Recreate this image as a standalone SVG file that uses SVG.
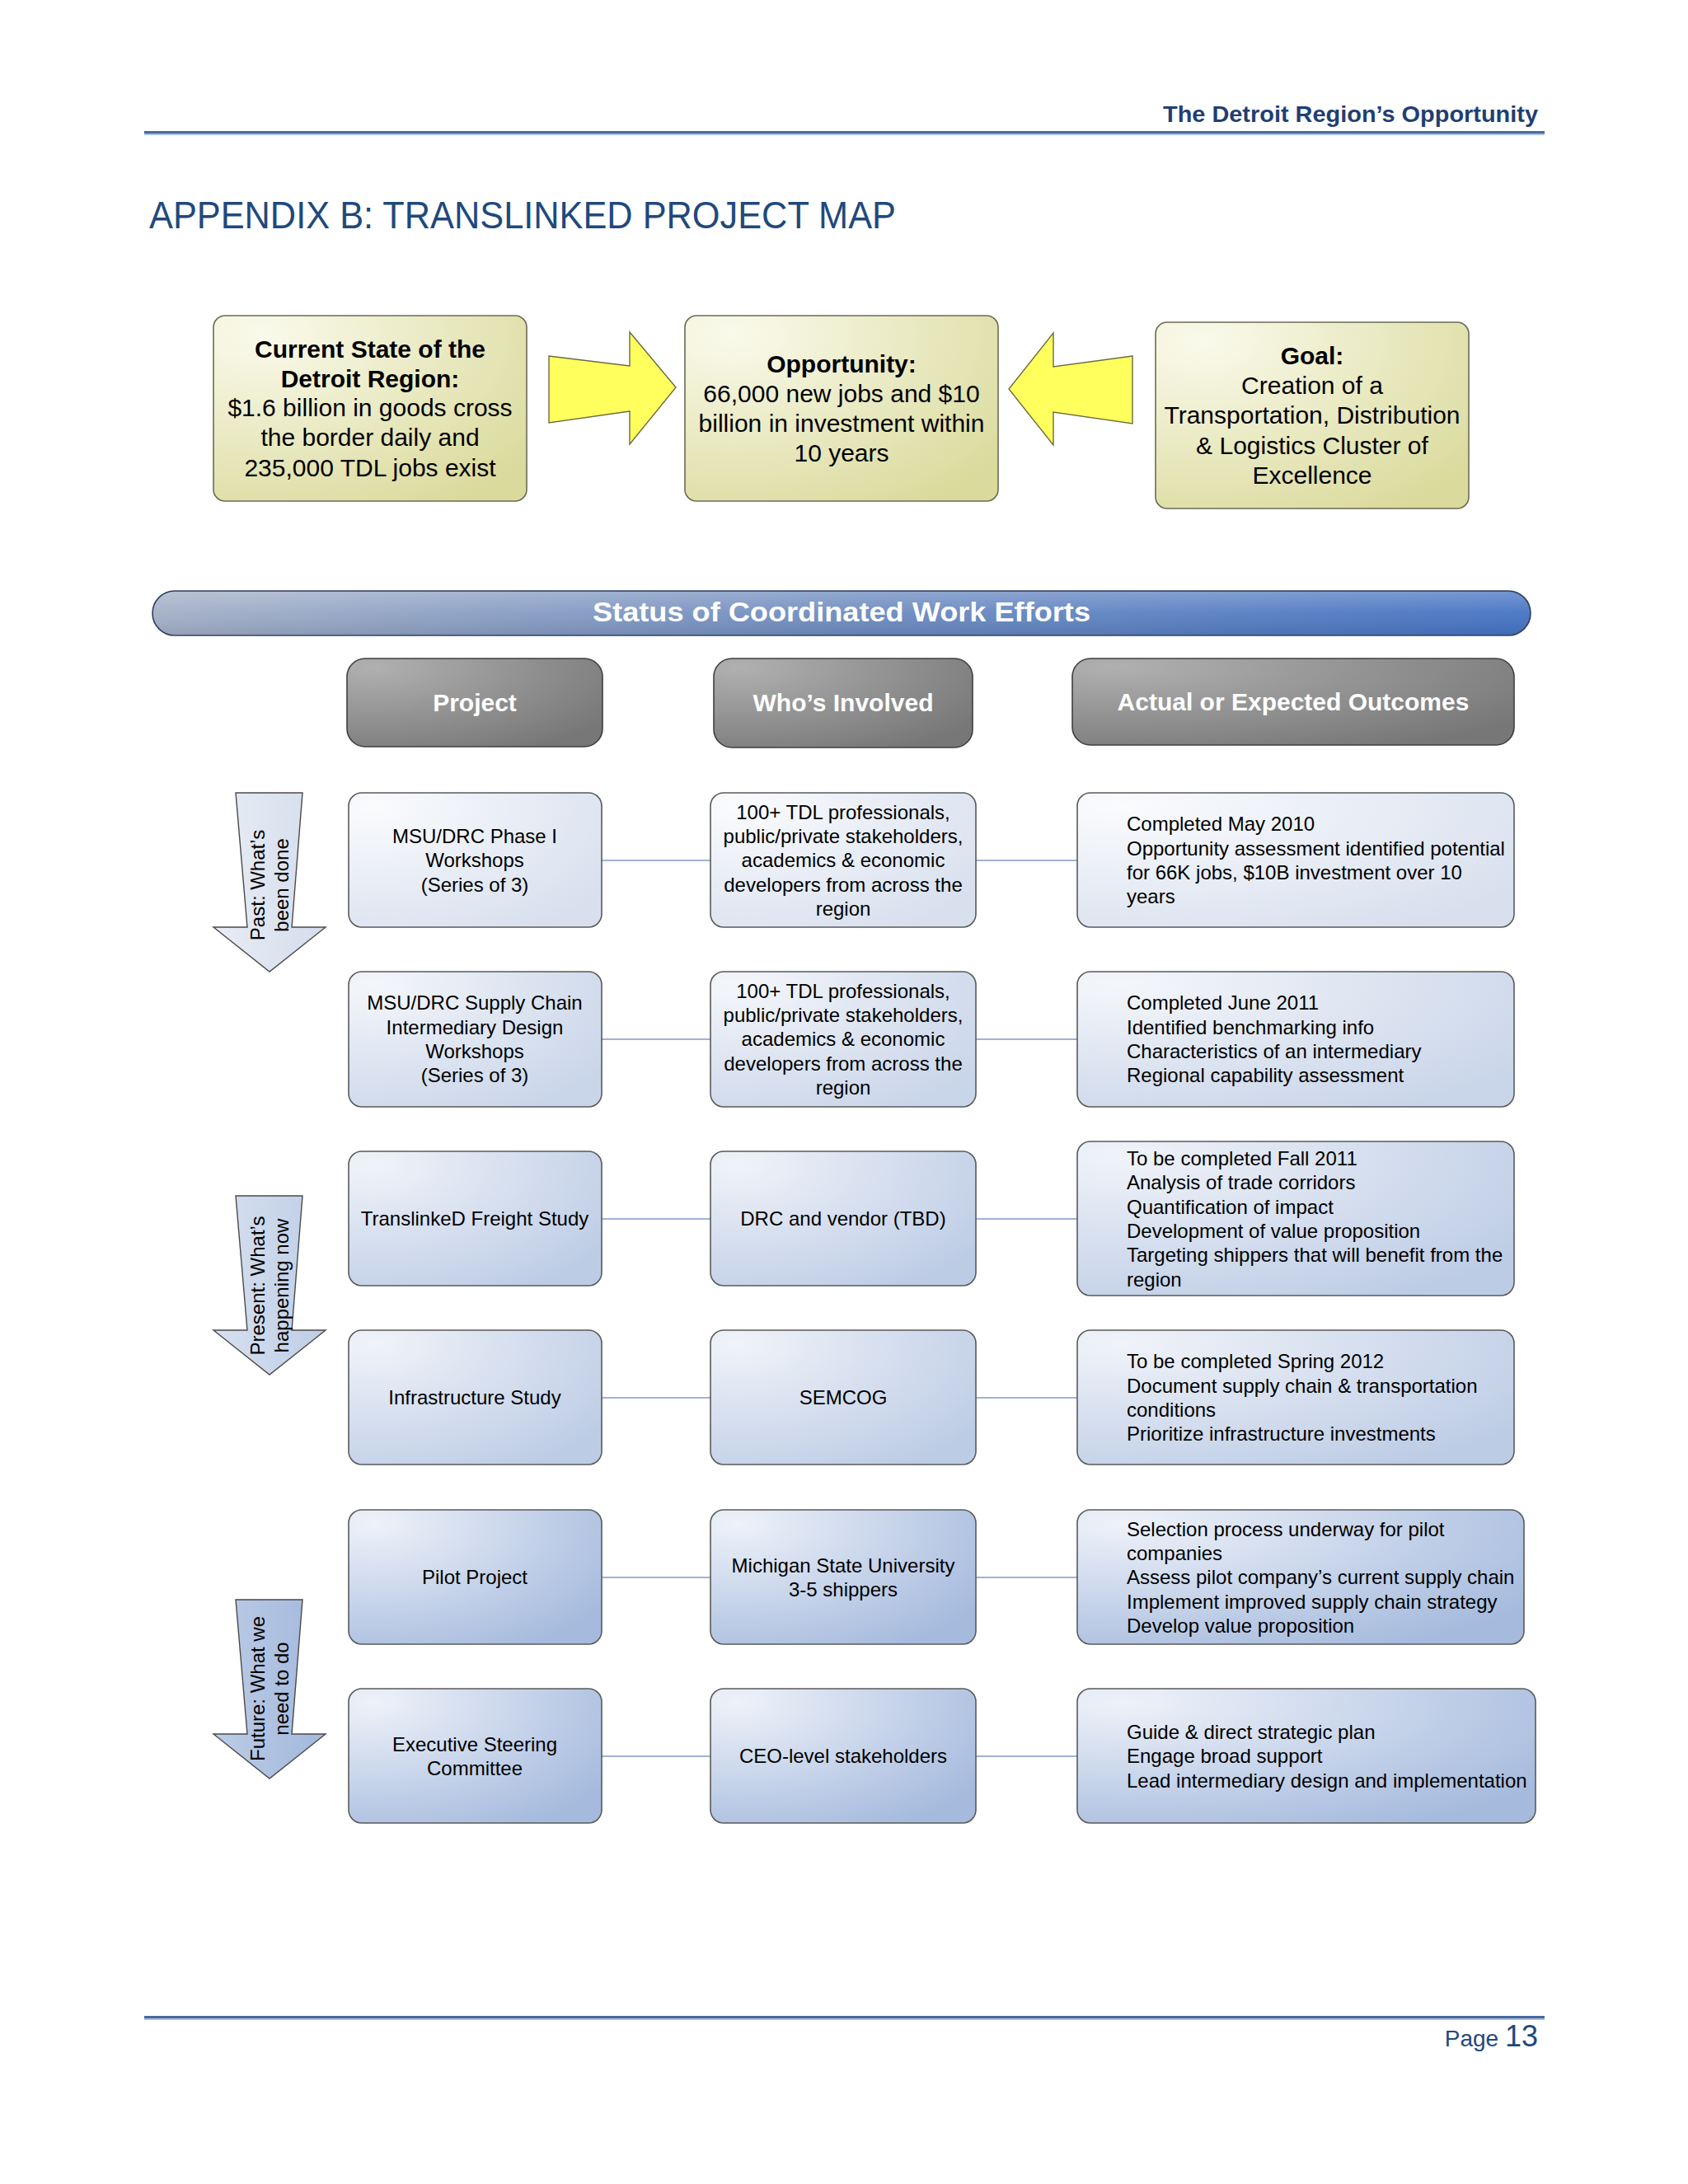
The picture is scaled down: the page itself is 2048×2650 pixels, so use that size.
<svg xmlns="http://www.w3.org/2000/svg" width="2048" height="2650" viewBox="0 0 2048 2650">
<defs>
<style>
text{font-family:"Liberation Sans",Arial,sans-serif;}
.hdr{fill:#1F3F73;font-weight:bold;font-size:28px;}
.ttl{fill:#1F497D;font-size:46px;}
.top{fill:#000;font-size:30px;text-anchor:middle;}
.topb{font-weight:bold;}
.box{stroke:#5A5A5A;stroke-width:1.6;}
.ybox{fill:url(#gYel);stroke:#6B6B55;stroke-width:1.6;}
.yarrow{fill:#FFFF5E;stroke:#6B6B40;stroke-width:1.4;}
.ghead{fill:url(#gGray);stroke:#3F3F3F;stroke-width:1.6;}
.ghtxt{fill:#fff;font-weight:bold;font-size:30px;text-anchor:middle;}
.t{fill:#000;font-size:24px;}
.c{text-anchor:middle;}
.conn{stroke:#9DB3D5;stroke-width:2;fill:none;}
.varrow{stroke:#4A4A4A;stroke-width:1.4;}
.vt{fill:#000;font-size:24px;text-anchor:middle;}
</style>
<radialGradient id="gYel" cx="0.15" cy="0.1" r="1.1">
<stop offset="0" stop-color="#FAFAEC"/>
<stop offset="1" stop-color="#DADA9C"/>
</radialGradient>
<radialGradient id="gGray" cx="0.1" cy="0.1" r="1.1">
<stop offset="0" stop-color="#B0B0B0"/>
<stop offset="1" stop-color="#777777"/>
</radialGradient>
<linearGradient id="gBanner" x1="0" y1="0" x2="1" y2="0">
<stop offset="0" stop-color="#A3AFC6"/>
<stop offset="0.5" stop-color="#6E8CC0"/>
<stop offset="1" stop-color="#4573C3"/>
</linearGradient>
<linearGradient id="gSheen" x1="0" y1="0" x2="0" y2="1">
<stop offset="0" stop-color="#fff" stop-opacity="0.25"/>
<stop offset="0.5" stop-color="#fff" stop-opacity="0.05"/>
<stop offset="1" stop-color="#000" stop-opacity="0.08"/>
</linearGradient>
<radialGradient id="gR1" cx="0.1" cy="0.1" r="1.1">
<stop offset="0" stop-color="#FAFBFD"/>
<stop offset="1" stop-color="#D8E0EE"/>
</radialGradient>
<radialGradient id="gR2" cx="0.1" cy="0.1" r="1.1">
<stop offset="0" stop-color="#F4F6FA"/>
<stop offset="1" stop-color="#C9D5E9"/>
</radialGradient>
<radialGradient id="gR3" cx="0.1" cy="0.1" r="1.1">
<stop offset="0" stop-color="#F0F3F9"/>
<stop offset="1" stop-color="#BDCCE5"/>
</radialGradient>
<radialGradient id="gR5" cx="0.1" cy="0.1" r="1.1">
<stop offset="0" stop-color="#EEF2F9"/>
<stop offset="1" stop-color="#A5BADD"/>
</radialGradient>
<linearGradient id="gA1" x1="0" y1="0" x2="1" y2="0">
<stop offset="0" stop-color="#E8EDF5"/>
<stop offset="1" stop-color="#D4DDEC"/>
</linearGradient>
<linearGradient id="gA2" x1="0" y1="0" x2="1" y2="0">
<stop offset="0" stop-color="#D6E0EF"/>
<stop offset="1" stop-color="#BFCEE6"/>
</linearGradient>
<linearGradient id="gA3" x1="0" y1="0" x2="1" y2="0">
<stop offset="0" stop-color="#BCCCE6"/>
<stop offset="1" stop-color="#A3B8DC"/>
</linearGradient>
</defs>

<rect x="0" y="0" width="2048" height="2650" fill="#FFFFFF"/>

<!-- Header -->
<g id="header">
<text class="hdr" x="1866" y="148" text-anchor="end" textLength="455" lengthAdjust="spacingAndGlyphs">The Detroit Region’s Opportunity</text>
<rect x="175" y="159" width="1699" height="3" fill="#4A6A9E"/>
<rect x="175" y="162" width="1699" height="2" fill="#A9BEDD"/>
<text class="ttl" x="181" y="277" textLength="906" lengthAdjust="spacingAndGlyphs">APPENDIX B: TRANSLINKED PROJECT MAP</text>
</g>

<!-- Top boxes -->
<g id="current-state">
<rect class="ybox" x="259" y="383" width="380" height="225" rx="14"/>
<text class="top topb" x="449" y="434">Current State of the</text>
<text class="top topb" x="449" y="470">Detroit Region:</text>
<text class="top" x="449" y="505">$1.6 billion in goods cross</text>
<text class="top" x="449" y="541">the border daily and</text>
<text class="top" x="449" y="578">235,000 TDL jobs exist</text>
</g>
<g id="opportunity">
<rect class="ybox" x="831" y="383" width="380" height="225" rx="14"/>
<text class="top topb" x="1021" y="452">Opportunity:</text>
<text class="top" x="1021" y="488">66,000 new jobs and $10</text>
<text class="top" x="1021" y="524">billion in investment within</text>
<text class="top" x="1021" y="560">10 years</text>
</g>
<g id="goal">
<rect class="ybox" x="1402" y="391" width="380" height="226" rx="14"/>
<text class="top topb" x="1592" y="442">Goal:</text>
<text class="top" x="1592" y="478">Creation of a</text>
<text class="top" x="1592" y="514">Transportation, Distribution</text>
<text class="top" x="1592" y="551">&amp; Logistics Cluster of</text>
<text class="top" x="1592" y="587">Excellence</text>
</g>
<g id="arrow-right">
<polygon class="yarrow" points="666,432 764,444 764,403 820,470 764,539 764,499 666,513"/>
</g>
<g id="arrow-left">
<polygon class="yarrow" points="1374,432 1278,445 1278,404 1224,472 1278,540 1278,500 1374,514"/>
</g>

<!-- Banner -->
<g id="banner">
<rect x="185" y="717" width="1672" height="54" rx="27" fill="url(#gBanner)" stroke="#2F3F60" stroke-width="1.6"/>
<rect x="186" y="718" width="1670" height="52" rx="26" fill="url(#gSheen)"/>
<text x="1021" y="754" fill="#fff" font-weight="bold" font-size="34" text-anchor="middle" textLength="604" lengthAdjust="spacingAndGlyphs">Status of Coordinated Work Efforts</text>
</g>

<!-- Column headers -->
<g id="hdr-project">
<rect class="ghead" x="421" y="799" width="310" height="107" rx="22"/>
<text class="ghtxt" x="576" y="863">Project</text>
</g>
<g id="hdr-who">
<rect class="ghead" x="866" y="799" width="314" height="108" rx="22"/>
<text class="ghtxt" x="1023" y="863">Who’s Involved</text>
</g>
<g id="hdr-outcomes">
<rect class="ghead" x="1301" y="799" width="536" height="105" rx="22"/>
<text class="ghtxt" x="1569" y="862">Actual or Expected Outcomes</text>
</g>

<!-- Side arrows -->
<g id="arrow-past">
<polygon class="varrow" fill="url(#gA1)" points="286,962 367,962 354,1125 395,1125 327,1179 259,1125 300,1125"/>
<text class="vt" transform="translate(321,1074) rotate(-90)">Past: What’s</text>
<text class="vt" transform="translate(350,1074) rotate(-90)">been done</text>
</g>
<g id="arrow-present">
<polygon class="varrow" fill="url(#gA2)" points="286,1451 367,1451 354,1614 395,1614 327,1668 259,1614 300,1614"/>
<text class="vt" transform="translate(321,1560) rotate(-90)">Present: What’s</text>
<text class="vt" transform="translate(350,1560) rotate(-90)">happening now</text>
</g>
<g id="arrow-future">
<polygon class="varrow" fill="url(#gA3)" points="286,1941 367,1941 354,2104 395,2104 327,2158 259,2104 300,2104"/>
<text class="vt" transform="translate(321,2049) rotate(-90)">Future: What we</text>
<text class="vt" transform="translate(350,2049) rotate(-90)">need to do</text>
</g>

<!-- Connectors -->
<g id="connectors">
<line class="conn" x1="730" y1="1044" x2="862" y2="1044"/>
<line class="conn" x1="1184" y1="1044" x2="1307" y2="1044"/>
<line class="conn" x1="730" y1="1261" x2="862" y2="1261"/>
<line class="conn" x1="1184" y1="1261" x2="1307" y2="1261"/>
<line class="conn" x1="730" y1="1479" x2="862" y2="1479"/>
<line class="conn" x1="1184" y1="1479" x2="1307" y2="1479"/>
<line class="conn" x1="730" y1="1696" x2="862" y2="1696"/>
<line class="conn" x1="1184" y1="1696" x2="1307" y2="1696"/>
<line class="conn" x1="730" y1="1914" x2="862" y2="1914"/>
<line class="conn" x1="1184" y1="1914" x2="1307" y2="1914"/>
<line class="conn" x1="730" y1="2131" x2="862" y2="2131"/>
<line class="conn" x1="1184" y1="2131" x2="1307" y2="2131"/>
</g>

<!-- Row 1 -->
<g id="r1-project">
<rect class="box" fill="url(#gR1)" x="423" y="962" width="307" height="163" rx="16"/>
<text class="t c" x="576" y="1023">MSU/DRC Phase I</text>
<text class="t c" x="576" y="1052">Workshops</text>
<text class="t c" x="576" y="1082">(Series of 3)</text>
</g>
<g id="r1-who">
<rect class="box" fill="url(#gR1)" x="862" y="962" width="322" height="163" rx="16"/>
<text class="t c" x="1023" y="994">100+ TDL professionals,</text>
<text class="t c" x="1023" y="1023">public/private stakeholders,</text>
<text class="t c" x="1023" y="1052">academics &amp; economic</text>
<text class="t c" x="1023" y="1082">developers from across the</text>
<text class="t c" x="1023" y="1111">region</text>
</g>
<g id="r1-outcome">
<rect class="box" fill="url(#gR1)" x="1307" y="962" width="530" height="163" rx="16"/>
<text class="t" x="1367" y="1008">Completed May 2010</text>
<text class="t" x="1367" y="1038">Opportunity assessment identified potential</text>
<text class="t" x="1367" y="1067">for 66K jobs, $10B investment over 10</text>
<text class="t" x="1367" y="1096">years</text>
</g>

<!-- Row 2 -->
<g id="r2-project">
<rect class="box" fill="url(#gR2)" x="423" y="1179" width="307" height="164" rx="16"/>
<text class="t c" x="576" y="1225">MSU/DRC Supply Chain</text>
<text class="t c" x="576" y="1255">Intermediary Design</text>
<text class="t c" x="576" y="1284">Workshops</text>
<text class="t c" x="576" y="1313">(Series of 3)</text>
</g>
<g id="r2-who">
<rect class="box" fill="url(#gR2)" x="862" y="1179" width="322" height="164" rx="16"/>
<text class="t c" x="1023" y="1211">100+ TDL professionals,</text>
<text class="t c" x="1023" y="1240">public/private stakeholders,</text>
<text class="t c" x="1023" y="1269">academics &amp; economic</text>
<text class="t c" x="1023" y="1299">developers from across the</text>
<text class="t c" x="1023" y="1328">region</text>
</g>
<g id="r2-outcome">
<rect class="box" fill="url(#gR2)" x="1307" y="1179" width="530" height="164" rx="16"/>
<text class="t" x="1367" y="1225">Completed June 2011</text>
<text class="t" x="1367" y="1255">Identified benchmarking info</text>
<text class="t" x="1367" y="1284">Characteristics of an intermediary</text>
<text class="t" x="1367" y="1313">Regional capability assessment</text>
</g>

<!-- Row 3 -->
<g id="r3-project">
<rect class="box" fill="url(#gR3)" x="423" y="1397" width="307" height="163" rx="16"/>
<text class="t c" x="576" y="1487">TranslinkeD Freight Study</text>
</g>
<g id="r3-who">
<rect class="box" fill="url(#gR3)" x="862" y="1397" width="322" height="163" rx="16"/>
<text class="t c" x="1023" y="1487">DRC and vendor (TBD)</text>
</g>
<g id="r3-outcome">
<rect class="box" fill="url(#gR3)" x="1307" y="1385" width="530" height="187" rx="16"/>
<text class="t" x="1367" y="1414">To be completed Fall 2011</text>
<text class="t" x="1367" y="1443">Analysis of trade corridors</text>
<text class="t" x="1367" y="1473">Quantification of impact</text>
<text class="t" x="1367" y="1502">Development of value proposition</text>
<text class="t" x="1367" y="1531">Targeting shippers that will benefit from the</text>
<text class="t" x="1367" y="1561">region</text>
</g>

<!-- Row 4 -->
<g id="r4-project">
<rect class="box" fill="url(#gR3)" x="423" y="1614" width="307" height="163" rx="16"/>
<text class="t c" x="576" y="1704">Infrastructure Study</text>
</g>
<g id="r4-who">
<rect class="box" fill="url(#gR3)" x="862" y="1614" width="322" height="163" rx="16"/>
<text class="t c" x="1023" y="1704">SEMCOG</text>
</g>
<g id="r4-outcome">
<rect class="box" fill="url(#gR3)" x="1307" y="1614" width="530" height="163" rx="16"/>
<text class="t" x="1367" y="1660">To be completed Spring 2012</text>
<text class="t" x="1367" y="1690">Document supply chain &amp; transportation</text>
<text class="t" x="1367" y="1719">conditions</text>
<text class="t" x="1367" y="1748">Prioritize infrastructure investments</text>
</g>

<!-- Row 5 -->
<g id="r5-project">
<rect class="box" fill="url(#gR5)" x="423" y="1832" width="307" height="163" rx="16"/>
<text class="t c" x="576" y="1922">Pilot Project</text>
</g>
<g id="r5-who">
<rect class="box" fill="url(#gR5)" x="862" y="1832" width="322" height="163" rx="16"/>
<text class="t c" x="1023" y="1908">Michigan State University</text>
<text class="t c" x="1023" y="1937">3-5 shippers</text>
</g>
<g id="r5-outcome">
<rect class="box" fill="url(#gR5)" x="1307" y="1832" width="542" height="163" rx="16"/>
<text class="t" x="1367" y="1864">Selection process underway for pilot</text>
<text class="t" x="1367" y="1893">companies</text>
<text class="t" x="1367" y="1922">Assess pilot company’s current supply chain</text>
<text class="t" x="1367" y="1952">Implement improved supply chain strategy</text>
<text class="t" x="1367" y="1981">Develop value proposition</text>
</g>

<!-- Row 6 -->
<g id="r6-project">
<rect class="box" fill="url(#gR5)" x="423" y="2049" width="307" height="163" rx="16"/>
<text class="t c" x="576" y="2125">Executive Steering</text>
<text class="t c" x="576" y="2154">Committee</text>
</g>
<g id="r6-who">
<rect class="box" fill="url(#gR5)" x="862" y="2049" width="322" height="163" rx="16"/>
<text class="t c" x="1023" y="2139">CEO-level stakeholders</text>
</g>
<g id="r6-outcome">
<rect class="box" fill="url(#gR5)" x="1307" y="2049" width="556" height="163" rx="16"/>
<text class="t" x="1367" y="2110">Guide &amp; direct strategic plan</text>
<text class="t" x="1367" y="2139">Engage broad support</text>
<text class="t" x="1367" y="2169">Lead intermediary design and implementation</text>
</g>

<!-- Footer -->
<g id="footer">
<rect x="175" y="2446" width="1699" height="3" fill="#4A6A9E"/>
<rect x="175" y="2449" width="1699" height="2" fill="#A9BEDD"/>
<text x="1866" y="2483" text-anchor="end" fill="#1F497D"><tspan font-size="28">Page </tspan><tspan font-size="36">13</tspan></text>
</g>
</svg>
